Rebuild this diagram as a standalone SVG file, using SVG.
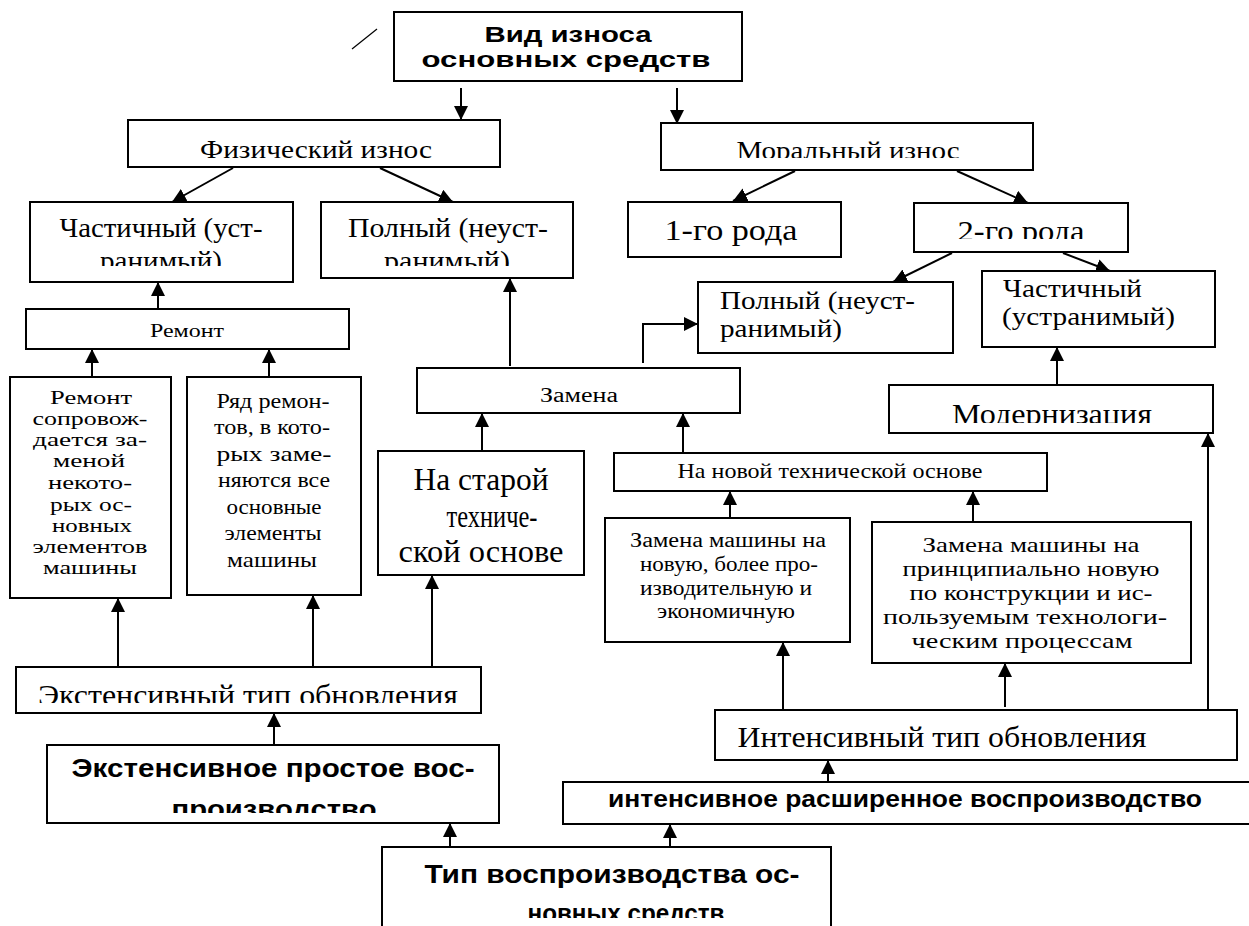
<svg xmlns="http://www.w3.org/2000/svg" width="1249" height="926" viewBox="0 0 1249 926">
<defs>
<style>
.b{fill:#fff;stroke:#000;stroke-width:2}
.s{font-family:"Liberation Serif","Times New Roman",serif;fill:#000}
.h{font-family:"Liberation Sans",Arial,sans-serif;font-weight:bold;fill:#000}
.m{text-anchor:middle}
.c{stroke:#000;stroke-width:2;fill:none;marker-end:url(#ah)}
</style>
<marker id="ah" markerWidth="15" markerHeight="15" refX="14" refY="7" orient="auto" markerUnits="userSpaceOnUse"><path d="M0,0 L14,7 L0,14 z" fill="#000"/></marker>
<clipPath id="cFiz" clipPathUnits="userSpaceOnUse"><rect x="0" y="100" width="1249" height="58"/></clipPath>
<clipPath id="cRan" clipPathUnits="userSpaceOnUse"><rect x="0" y="240" width="1249" height="26"/></clipPath>
<clipPath id="cRod" clipPathUnits="userSpaceOnUse"><rect x="0" y="200" width="1249" height="39"/></clipPath>
<clipPath id="cMod" clipPathUnits="userSpaceOnUse"><rect x="0" y="390" width="1249" height="33"/></clipPath>
<clipPath id="cExt" clipPathUnits="userSpaceOnUse"><rect x="0" y="670" width="1249" height="33"/></clipPath>
<clipPath id="cPro" clipPathUnits="userSpaceOnUse"><rect x="0" y="785" width="1249" height="28"/></clipPath>
<clipPath id="cNov" clipPathUnits="userSpaceOnUse"><rect x="0" y="890" width="1249" height="28"/></clipPath>
</defs>
<rect width="1249" height="926" fill="#fff"/>
<line x1="352" y1="49" x2="377" y2="29" stroke="#000" stroke-width="1.3"/>

<g id="connectors">
<line class="c" x1="461" y1="88" x2="461" y2="120"/>
<line class="c" x1="677" y1="88" x2="677" y2="124"/>
<line class="c" x1="233" y1="168" x2="172" y2="202"/>
<line class="c" x1="380" y1="168" x2="453" y2="202"/>
<line class="c" x1="795" y1="171" x2="733" y2="201"/>
<line class="c" x1="957" y1="171" x2="1028" y2="203"/>
<line class="c" x1="952" y1="253" x2="893" y2="282"/>
<line class="c" x1="1063" y1="253" x2="1110" y2="271"/>
<line class="c" x1="158" y1="309" x2="158" y2="282"/>
<line class="c" x1="92" y1="377" x2="92" y2="349"/>
<line class="c" x1="269" y1="377" x2="269" y2="349"/>
<line class="c" x1="510" y1="366" x2="510" y2="278"/>
<polyline class="c" points="643,363 643,324 698,324"/>
<line class="c" x1="482" y1="451" x2="482" y2="413"/>
<line class="c" x1="683" y1="453" x2="683" y2="413"/>
<line class="c" x1="730" y1="518" x2="730" y2="491"/>
<line class="c" x1="973" y1="522" x2="973" y2="491"/>
<line class="c" x1="1057" y1="385" x2="1057" y2="347"/>
<line class="c" x1="1208" y1="710" x2="1208" y2="433"/>
<line class="c" x1="118" y1="667" x2="118" y2="598"/>
<line class="c" x1="313" y1="667" x2="313" y2="595"/>
<line class="c" x1="432" y1="670" x2="432" y2="575"/>
<line class="c" x1="274" y1="745" x2="274" y2="713"/>
<line class="c" x1="450" y1="847" x2="450" y2="823"/>
<line class="c" x1="670" y1="847" x2="670" y2="824"/>
<line class="c" x1="828" y1="782" x2="828" y2="760"/>
<line class="c" x1="783" y1="710" x2="783" y2="642"/>
<line class="c" x1="1005" y1="707" x2="1005" y2="663"/>
</g>

<g id="n-vid">
<rect class="b" x="394" y="12" width="348" height="69"/>
<text class="h m" x="568" y="42" font-size="22" textLength="167" lengthAdjust="spacingAndGlyphs">Вид износа</text>
<text class="h m" x="566" y="67" font-size="22" textLength="289" lengthAdjust="spacingAndGlyphs">основных средств</text>
</g>

<g id="n-fiz">
<rect class="b" x="128" y="120" width="372" height="47"/>
<text class="s m" x="316" y="158" font-size="26" textLength="232" lengthAdjust="spacingAndGlyphs" clip-path="url(#cFiz)">Физический износ</text>
</g>

<g id="n-mor">
<rect class="b" x="661" y="123" width="372" height="47"/>
<text class="s m" x="848" y="159" font-size="26" textLength="223" lengthAdjust="spacingAndGlyphs" clip-path="url(#cFiz)">Моральный износ</text>
</g>

<g id="n-chast">
<rect class="b" x="30" y="202" width="263" height="80"/>
<text class="s m" x="161" y="237" font-size="28" textLength="203" lengthAdjust="spacingAndGlyphs">Частичный (уст-</text>
<text class="s m" x="161" y="270" font-size="28" textLength="122" lengthAdjust="spacingAndGlyphs" clip-path="url(#cRan)">ранимый)</text>
</g>

<g id="n-poln">
<rect class="b" x="321" y="202" width="252" height="76"/>
<text class="s m" x="448" y="237" font-size="28" textLength="200" lengthAdjust="spacingAndGlyphs">Полный (неуст-</text>
<text class="s m" x="447" y="270" font-size="28" textLength="126" lengthAdjust="spacingAndGlyphs" clip-path="url(#cRan)">ранимый)</text>
</g>

<g id="n-rod1">
<rect class="b" x="628" y="202" width="213" height="55"/>
<text class="s m" x="731" y="240" font-size="30" textLength="133" lengthAdjust="spacingAndGlyphs">1-го рода</text>
</g>

<g id="n-rod2">
<rect class="b" x="914" y="203" width="214" height="49"/>
<text class="s m" x="1021" y="241" font-size="30" textLength="127" lengthAdjust="spacingAndGlyphs" clip-path="url(#cRod)">2-го рода</text>
</g>

<g id="n-poln2">
<rect class="b" x="698" y="282" width="255" height="71"/>
<text class="s" x="720" y="309" font-size="25" textLength="195" lengthAdjust="spacingAndGlyphs">Полный (неуст-</text>
<text class="s" x="720" y="337" font-size="25" textLength="122" lengthAdjust="spacingAndGlyphs">ранимый)</text>
</g>

<g id="n-chast2">
<rect class="b" x="982" y="271" width="233" height="76"/>
<text class="s" x="1003" y="297" font-size="25" textLength="139" lengthAdjust="spacingAndGlyphs">Частичный</text>
<text class="s" x="1002" y="325" font-size="25" textLength="173" lengthAdjust="spacingAndGlyphs">(устранимый)</text>
</g>

<g id="n-remont">
<rect class="b" x="26" y="309" width="323" height="40"/>
<text class="s m" x="187" y="337" font-size="19" textLength="74" lengthAdjust="spacingAndGlyphs">Ремонт</text>
</g>

<g id="n-rem1">
<rect class="b" x="10" y="377" width="161" height="221"/>
<g class="s m" font-size="19">
<text x="91" y="404" textLength="82" lengthAdjust="spacingAndGlyphs">Ремонт</text>
<text x="90" y="425" textLength="115" lengthAdjust="spacingAndGlyphs">сопровож-</text>
<text x="90" y="446" textLength="114" lengthAdjust="spacingAndGlyphs">дается за-</text>
<text x="89" y="467" textLength="72" lengthAdjust="spacingAndGlyphs">меной</text>
<text x="90" y="489" textLength="84" lengthAdjust="spacingAndGlyphs">некото-</text>
<text x="91" y="511" textLength="82" lengthAdjust="spacingAndGlyphs">рых ос-</text>
<text x="92" y="532" textLength="80" lengthAdjust="spacingAndGlyphs">новных</text>
<text x="90" y="553" textLength="115" lengthAdjust="spacingAndGlyphs">элементов</text>
<text x="90" y="574" textLength="94" lengthAdjust="spacingAndGlyphs">машины</text>
</g>
</g>

<g id="n-rem2">
<rect class="b" x="187" y="377" width="174" height="218"/>
<g class="s m" font-size="22">
<text x="273" y="408" textLength="113" lengthAdjust="spacingAndGlyphs">Ряд ремон-</text>
<text x="272" y="434" textLength="116" lengthAdjust="spacingAndGlyphs">тов, в кото-</text>
<text x="274" y="461" textLength="115" lengthAdjust="spacingAndGlyphs">рых заме-</text>
<text x="274" y="487" textLength="112" lengthAdjust="spacingAndGlyphs">няются все</text>
<text x="274" y="514" textLength="95" lengthAdjust="spacingAndGlyphs">основные</text>
<text x="273" y="540" textLength="97" lengthAdjust="spacingAndGlyphs">элементы</text>
<text x="272" y="567" textLength="90" lengthAdjust="spacingAndGlyphs">машины</text>
</g>
</g>

<g id="n-zamena">
<rect class="b" x="417" y="368" width="323" height="45"/>
<text class="s m" x="579" y="402" font-size="20" textLength="78" lengthAdjust="spacingAndGlyphs">Замена</text>
</g>

<g id="n-star">
<rect class="b" x="378" y="451" width="206" height="124"/>
<g class="s m" font-size="31">
<text x="481" y="490" textLength="135" lengthAdjust="spacingAndGlyphs">На старой</text>
<text x="492" y="527" textLength="91" lengthAdjust="spacingAndGlyphs">техниче-</text>
<text x="481" y="562" textLength="165" lengthAdjust="spacingAndGlyphs">ской основе</text>
</g>
</g>

<g id="n-nov">
<rect class="b" x="614" y="453" width="433" height="38"/>
<text class="s m" x="830" y="478" font-size="22" textLength="305" lengthAdjust="spacingAndGlyphs">На новой технической основе</text>
</g>

<g id="n-zm1">
<rect class="b" x="605" y="518" width="245" height="124"/>
<g class="s m" font-size="20">
<text x="728" y="547" textLength="196" lengthAdjust="spacingAndGlyphs">Замена машины на</text>
<text x="729" y="571" textLength="178" lengthAdjust="spacingAndGlyphs">новую, более про-</text>
<text x="726" y="595" textLength="172" lengthAdjust="spacingAndGlyphs">изводительную и</text>
<text x="726" y="618" textLength="138" lengthAdjust="spacingAndGlyphs">экономичную</text>
</g>
</g>

<g id="n-zm2">
<rect class="b" x="872" y="522" width="319" height="141"/>
<g class="s m" font-size="21">
<text x="1031" y="552" textLength="217" lengthAdjust="spacingAndGlyphs">Замена машины на</text>
<text x="1031" y="576" textLength="257" lengthAdjust="spacingAndGlyphs">принципиально новую</text>
<text x="1031" y="600" textLength="243" lengthAdjust="spacingAndGlyphs">по конструкции и ис-</text>
<text x="1025" y="624" textLength="284" lengthAdjust="spacingAndGlyphs">пользуемым технологи-</text>
<text x="1022" y="648" textLength="221" lengthAdjust="spacingAndGlyphs">ческим процессам</text>
</g>
</g>

<g id="n-mod">
<rect class="b" x="889" y="385" width="324" height="48"/>
<text class="s m" x="1052" y="424" font-size="30" textLength="200" lengthAdjust="spacingAndGlyphs" clip-path="url(#cMod)">Модернизация</text>
</g>

<g id="n-ext">
<rect class="b" x="16" y="667" width="465" height="46"/>
<text class="s m" x="248" y="705" font-size="30" textLength="420" lengthAdjust="spacingAndGlyphs" clip-path="url(#cExt)">Экстенсивный тип обновления</text>
</g>

<g id="n-int">
<rect class="b" x="715" y="710" width="522" height="50"/>
<text class="s m" x="942" y="747" font-size="30" textLength="409" lengthAdjust="spacingAndGlyphs">Интенсивный тип обновления</text>
</g>

<g id="n-extp">
<rect class="b" x="47" y="745" width="452" height="78"/>
<text class="h m" x="273" y="777" font-size="25" textLength="403" lengthAdjust="spacingAndGlyphs">Экстенсивное простое вос-</text>
<text class="h m" x="274" y="818" font-size="25" textLength="205" lengthAdjust="spacingAndGlyphs" clip-path="url(#cPro)">производство</text>
</g>

<g id="n-intr">
<rect class="b" x="563" y="782" width="700" height="42"/>
<text class="h m" x="905" y="807" font-size="24" textLength="594" lengthAdjust="spacingAndGlyphs">интенсивное расширенное воспроизводство</text>
</g>

<g id="n-tip">
<rect class="b" x="382" y="847" width="449" height="100"/>
<text class="h m" x="612" y="883" font-size="26" textLength="375" lengthAdjust="spacingAndGlyphs">Тип воспроизводства ос-</text>
<text class="h m" x="626" y="922" font-size="26" textLength="197" lengthAdjust="spacingAndGlyphs" clip-path="url(#cNov)">новных средств</text>
</g>
</svg>
